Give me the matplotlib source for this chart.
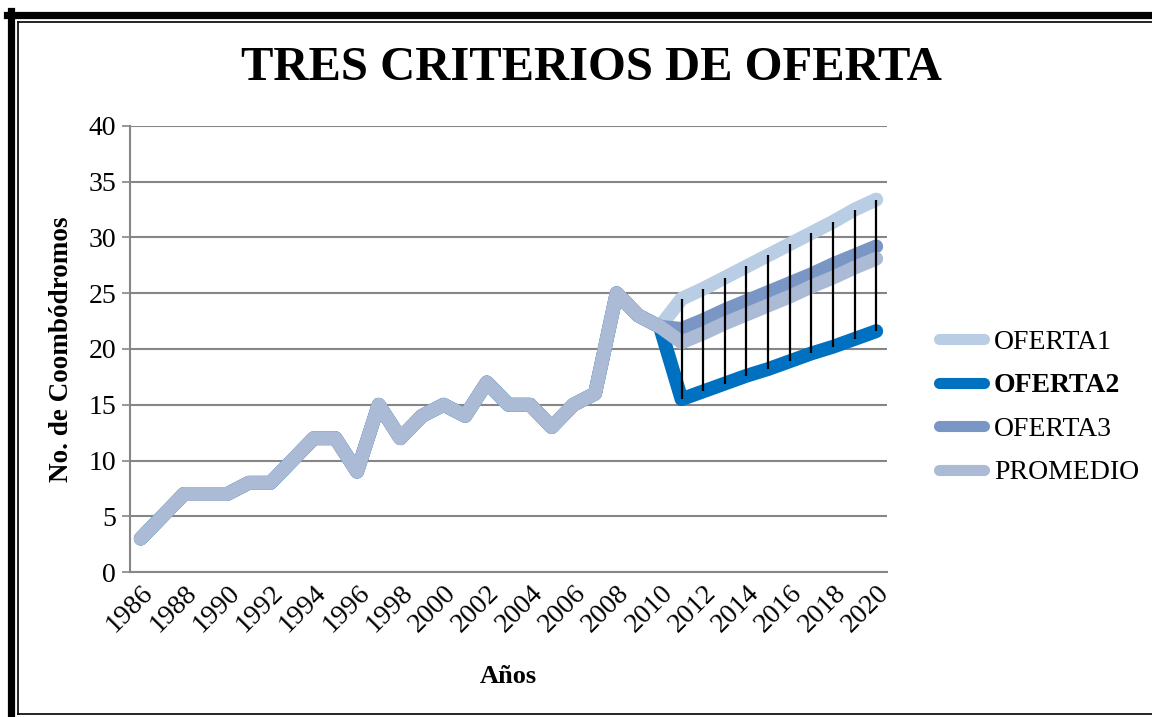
import matplotlib.pyplot as plt
from matplotlib.lines import Line2D
import numpy as np

plt.rcParams['font.family'] = ['Liberation Serif', 'DejaVu Serif']

# historical data, shared by all series
hist_years = list(range(1986, 2011))
hist = [3, 5, 7, 7, 7, 8, 8, 10, 12, 12, 9, 15, 12, 14, 15, 14, 17, 15, 15, 13,
        15, 16, 25, 23, 22]

# projections 2011-2020
proj_years = list(range(2011, 2021))
oferta1 = [24.5, 25.4, 26.4, 27.4, 28.4, 29.4, 30.4, 31.4, 32.5, 33.4]
oferta2 = [15.5, 16.2, 16.9, 17.6, 18.2, 18.9, 19.6, 20.2, 20.9, 21.6]
oferta3 = [21.8, 22.6, 23.5, 24.3, 25.1, 25.9, 26.7, 27.6, 28.4, 29.2]
promedio = [20.6, 21.4, 22.3, 23.1, 23.9, 24.7, 25.6, 26.4, 27.3, 28.1]

names = ['OFERTA1', 'OFERTA2', 'OFERTA3', 'PROMEDIO']
colors = ['#B9CDE5', '#0070C0', '#7A96C5', '#ABBAD5']
series = [oferta1, oferta2, oferta3, promedio]

years = hist_years + proj_years

fig = plt.figure(figsize=(11.52, 7.17), dpi=100)
ax = fig.add_axes([0.1128, 0.2022, 0.6572, 0.6221])

for name, col, s in zip(names, colors, series):
    ax.plot(years, hist + s, color=col, lw=10, solid_capstyle='round',
            solid_joinstyle='round', label=name, zorder=3)

# high-low lines
proj = np.array(series)
ax.vlines(proj_years, proj.min(axis=0), proj.max(axis=0), color='black',
          lw=1.6, zorder=4)

ax.set_xlim(1985.5, 2020.5)
ax.set_ylim(0, 40)
ax.set_yticks(range(0, 41, 5))
ax.set_xticks(range(1986, 2021, 2))
ax.set_xticklabels([str(y) for y in range(1986, 2021, 2)], rotation=45,
                   ha='right', rotation_mode='anchor')
ax.tick_params(axis='both', labelsize=20, colors='black')
ax.tick_params(axis='y', length=6, color='#868686', width=1.2, pad=4)
ax.tick_params(axis='x', length=0, pad=6)
ax.grid(axis='y', color='#868686', lw=1.5, zorder=0)
ax.set_axisbelow(True)
for sp in ['top', 'right']:
    ax.spines[sp].set_visible(False)
ax.spines['left'].set_color('#868686')
ax.spines['left'].set_linewidth(1.5)
ax.spines['bottom'].set_color('#868686')
ax.spines['bottom'].set_linewidth(1.5)

ax.set_ylabel('No. de Coombódromos', fontsize=19.5, fontweight='bold', labelpad=10)
ax.set_xlabel('Años', fontsize=19, fontweight='bold', labelpad=20)

fig.text(0.513, 0.905, 'TRES CRITERIOS DE OFERTA', ha='center', va='center',
         fontsize=35, fontweight='bold')

handles = [Line2D([0], [0], color=c, lw=8, solid_capstyle='round') for c in colors]
leg = fig.legend(handles, names, loc='center left', bbox_to_anchor=(0.793, 0.432),
                 frameon=False, fontsize=20, handlelength=1.65, handletextpad=0.35,
                 labelspacing=0.65)
leg.get_texts()[1].set_fontweight('bold')

# frame around the chart
fig.add_artist(Line2D([10.5 / 1152, 10.5 / 1152], [0, 1 - 11 / 717], color='black',
                      lw=5.2, transform=fig.transFigure))
fig.add_artist(Line2D([7 / 1152, 1], [1 - 14.5 / 717, 1 - 14.5 / 717], color='black',
                      lw=5.2, transform=fig.transFigure))
fig.add_artist(Line2D([17.5 / 1152, 17.5 / 1152], [3 / 717, 1 - 21.5 / 717],
                      color='black', lw=1.2, transform=fig.transFigure))
fig.add_artist(Line2D([17.5 / 1152, 1], [1 - 21.5 / 717, 1 - 21.5 / 717],
                      color='black', lw=1.2, transform=fig.transFigure))
fig.add_artist(Line2D([17.5 / 1152, 1], [3 / 717, 3 / 717],
                      color='black', lw=1.2, transform=fig.transFigure))

fig.savefig('out.png', dpi=100)
